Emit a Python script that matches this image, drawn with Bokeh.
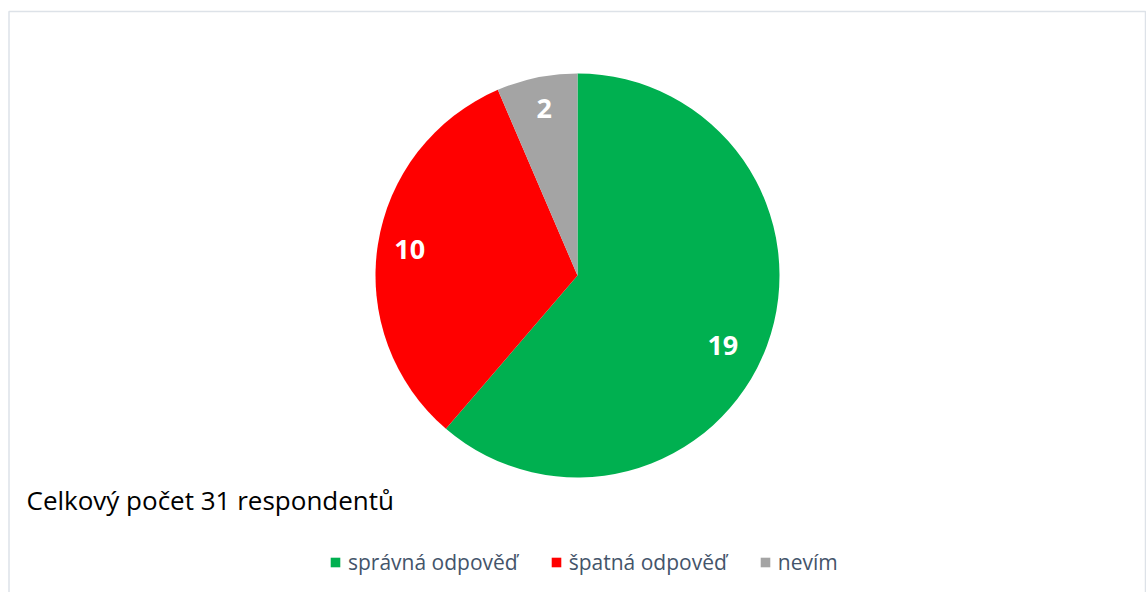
import numpy as np
from bokeh.plotting import figure
from bokeh.models import ColumnDataSource, Legend, LegendItem, Label
from bokeh.core.properties import value
from bokeh.embed import file_html
from bokeh.resources import INLINE

categories = ["správná odpověď", "špatná odpověď", "nevím"]
counts = [19, 10, 2]
colors = ["#00B050", "#FF0000", "#A4A4A4"]
note = "Celkový počet 31 respondentů"

W, H = 1146, 592
cx, cy, r = 577, 317, 202

total = sum(counts)
fr = np.array(counts) / total
cum = np.concatenate([[0], np.cumsum(fr)])
start = np.pi / 2 - 2 * np.pi * cum[:-1]
end = np.pi / 2 - 2 * np.pi * cum[1:]
mid = (start + end) / 2
# label placement (best-fit style nudges, in pixels)
nudge_x = np.array([-10, -4, 0])
nudge_y = np.array([-12, 1, 5])
lx = cx + 0.82 * r * np.cos(mid) + nudge_x
ly = cy + 0.82 * r * np.sin(mid) + nudge_y

src = ColumnDataSource(dict(cat=categories, val=counts, start=start, end=end,
                            color=colors, lx=lx, ly=ly,
                            txt=[str(c) for c in counts]))

p = figure(width=W, height=H, x_range=(0, W), y_range=(0, H),
           output_backend="svg", toolbar_location=None, min_border=0,
           outline_line_color=None, background_fill_color="white",
           border_fill_color="white")
p.axis.visible = False
p.grid.visible = False

# chart border (top, left, right)
p.line([8.5, 8.5, 1145, 1145], [-5, H - 11, H - 11, -5], line_color="#DDE2E8", line_width=1.5)

rs = []
for i in range(len(counts)):
    rr = p.wedge(x=cx, y=cy, radius=r, start_angle=start[i], end_angle=end[i],
                 direction="clock", fill_color=colors[i], line_color=None)
    rs.append(rr)

p.text(x="lx", y="ly", text="txt", source=src, text_color="white",
       text_font=value("Open Sans"), text_font_style="bold", text_font_size="27px",
       text_align="center", text_baseline="middle")

p.add_layout(Label(x=26, y=H - 499, text=note, text_font="Open Sans",
                   text_font_size="26px", text_color="black", text_baseline="alphabetic"))

legend = Legend(items=[LegendItem(label=categories[i], renderers=[rs[i]]) for i in range(3)],
                orientation="horizontal", location=(329, 16),
                label_text_font="Open Sans", label_text_font_size="21px",
                label_text_color="#44546A", glyph_width=12, glyph_height=12,
                label_standoff=7, spacing=32, padding=0, margin=0,
                border_line_color=None, background_fill_alpha=0)
p.add_layout(legend)

open("out.html", "w").write(file_html(p, INLINE))
